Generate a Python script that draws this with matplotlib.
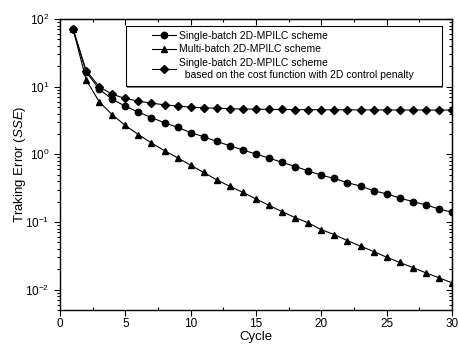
import numpy as np
import matplotlib
matplotlib.use('Agg')
import matplotlib.pyplot as plt
from matplotlib.patches import Rectangle
from matplotlib.ticker import MultipleLocator, LogLocator, NullFormatter

plt.rcParams['font.family'] = ['Liberation Sans', 'DejaVu Sans']
plt.rcParams['mathtext.fontset'] = 'custom'
plt.rcParams['mathtext.rm'] = 'Liberation Sans'
plt.rcParams['mathtext.it'] = 'Liberation Sans:italic'

# datos
ciclos = np.arange(1, 31)

single_batch = [71, 16.5, 9.2, 6.5, 5.15, 4.2, 3.5, 2.92, 2.5, 2.1,
                1.82, 1.55, 1.34, 1.16, 1.01, 0.88, 0.76, 0.66, 0.57, 0.49,
                0.44, 0.38, 0.34, 0.29, 0.26, 0.226, 0.2, 0.179, 0.156, 0.139]

multi_batch = [71, 12.6, 6.0, 3.84, 2.67, 1.96, 1.47, 1.13, 0.89, 0.69,
               0.54, 0.42, 0.336, 0.274, 0.219, 0.176, 0.142, 0.116, 0.097, 0.077,
               0.065, 0.053, 0.044, 0.0366, 0.0302, 0.0252, 0.0212, 0.0177, 0.015, 0.0126]

single_penalty = [71, 17.3, 10.0, 7.7, 6.7, 6.1, 5.7, 5.4, 5.16, 4.99,
                  4.87, 4.8, 4.72, 4.68, 4.65, 4.62, 4.6, 4.58, 4.57, 4.56,
                  4.55, 4.54, 4.54, 4.53, 4.53, 4.52, 4.52, 4.52, 4.51, 4.51]

etiquetas = ['Single-batch 2D-MPILC scheme',
             'Multi-batch 2D-MPILC scheme',
             'Single-batch 2D-MPILC scheme\n  based on the cost function with 2D control penalty']

fig = plt.figure(figsize=(4.59, 3.52), dpi=100)
ax = fig.add_axes([0.1307, 0.1193, 0.854, 0.8267])

ax.plot(ciclos, single_batch, '-o', color='black', lw=0.8, ms=4.6, label=etiquetas[0])
ax.plot(ciclos, multi_batch, '-^', color='black', lw=0.8, ms=5.0, label=etiquetas[1])
ax.plot(ciclos, single_penalty, '-D', color='black', lw=0.8, ms=4.2, label=etiquetas[2])

ax.set_yscale('log')
ax.set_xlim(0, 30)
ax.set_ylim(0.005, 100)
ax.xaxis.set_major_locator(MultipleLocator(5))
ax.xaxis.set_minor_locator(MultipleLocator(2.5))
ax.yaxis.set_major_locator(LogLocator(base=10, numticks=10))
ax.yaxis.set_minor_locator(LogLocator(base=10, subs=np.arange(2, 10), numticks=10))
ax.yaxis.set_minor_formatter(NullFormatter())

ax.tick_params(which='major', direction='out', length=4, width=0.8, labelsize=8.5)
ax.tick_params(which='minor', direction='out', length=2.5, width=0.8)
ax.tick_params(axis='x', which='minor', direction='in')
ax.tick_params(axis='x', which='major', pad=1.5)

# ejes de arriba y derecha con marcas hacia adentro
top = ax.secondary_xaxis('top')
top.xaxis.set_major_locator(MultipleLocator(5))
top.xaxis.set_minor_locator(MultipleLocator(2.5))
top.tick_params(which='major', direction='in', length=4, width=0.8, labeltop=False)
top.tick_params(which='minor', direction='in', length=2.5, width=0.8)
right = ax.secondary_yaxis('right')
right.yaxis.set_major_locator(LogLocator(base=10, numticks=10))
right.yaxis.set_minor_locator(LogLocator(base=10, subs=np.arange(2, 10), numticks=10))
right.tick_params(which='major', direction='in', length=4, width=0.8, labelright=False)
right.tick_params(which='minor', direction='in', length=2.5, width=0.8, labelright=False)

for s in ax.spines.values():
    s.set_linewidth(1.0)

ax.set_xlabel('Cycle', fontsize=9.5, labelpad=1)
ax.set_ylabel('Traking Error ($\\it{SSE}$)', fontsize=9.5, labelpad=-2)

# recuadro de la leyenda con sombra gris
sombra = Rectangle((0.172, 0.763), 0.806, 0.206, transform=ax.transAxes,
                   facecolor='gray', edgecolor='none', zorder=4)
caja = Rectangle((0.168, 0.770), 0.806, 0.206, transform=ax.transAxes,
                 facecolor='white', edgecolor='black', lw=0.8, zorder=5)
ax.add_patch(sombra)
ax.add_patch(caja)

leg = ax.legend(loc='upper left', bbox_to_anchor=(0.2347, 0.96), fontsize=7.5,
                frameon=False, handlelength=2.3, handletextpad=0.3,
                labelspacing=0.35, borderpad=0, borderaxespad=0)
for t in leg.get_texts():
    t.set_linespacing(1.3)
leg.set_zorder(6)

fig.savefig('out.png', dpi=100)
